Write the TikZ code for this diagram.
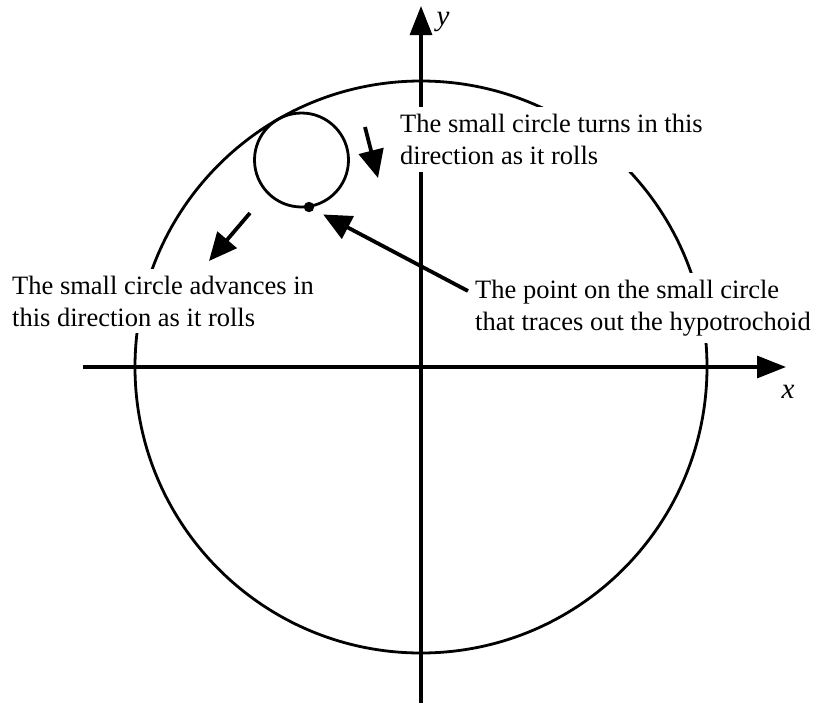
\documentclass[tikz,border=0pt]{standalone}
\usepackage{fontspec}
\setmainfont{Liberation Serif}
\usetikzlibrary{arrows.meta}
\begin{document}
\begin{tikzpicture}[x=1pt,y=-1pt,
  curve/.style={line width=2.8pt},
  axis/.style={line width=3.2pt,-{Triangle[length=29pt,width=22pt]}},
  bigarrow/.style={line width=3.8pt,-{Triangle[length=28pt,width=25pt]}},
  label/.style={fill=white,inner sep=7pt,anchor=north west,align=left,
    font=\fontsize{26.5}{32}\selectfont},
  axlabel/.style={inner sep=0pt,font=\fontsize{29}{32}\selectfont\itshape}]
\useasboundingbox (0,0) rectangle (817,705);
% big circle and small circle
\coordinate (O) at (421,367);
\draw[curve] (O) circle[radius=286];
\coordinate (S) at (301.5,160);
\draw[curve] (S) circle[radius=47];
\fill (309,207) circle[radius=5.2] node (dot) {};
% axes
\coordinate (xl) at (83,367);
\coordinate (xr) at (786,367);
\coordinate (yb) at (421,703);
\coordinate (yt) at (421,6);
\draw[axis] (xl) -- (xr);
\draw[axis] (yb) -- (yt);
\node[axlabel] (ylab) at (443,22) {y};
\node[axlabel] (xlab) at (788,392) {x};
% labels
\node[label] (turns) at (393,107) {The small circle turns in this\\direction as it rolls};
\node[label] (adv) at (5,268.5) {The small circle advances in\\this direction as it rolls};
\node[label] (pt) at (468,273) {The point on the small circle\\that traces out the hypotrochoid};
% arrows
\coordinate (pstart) at (468,291);
\draw[bigarrow,shorten >=16pt] (pstart) -- (dot.center);
\coordinate (t1) at (365,127);
\coordinate (t2) at (378,178);
\draw[bigarrow] (t1) -- (t2);
\coordinate (a1) at (250,213);
\coordinate (a2) at (209,261);
\draw[bigarrow] (a1) -- (a2);
\end{tikzpicture}
\end{document}
